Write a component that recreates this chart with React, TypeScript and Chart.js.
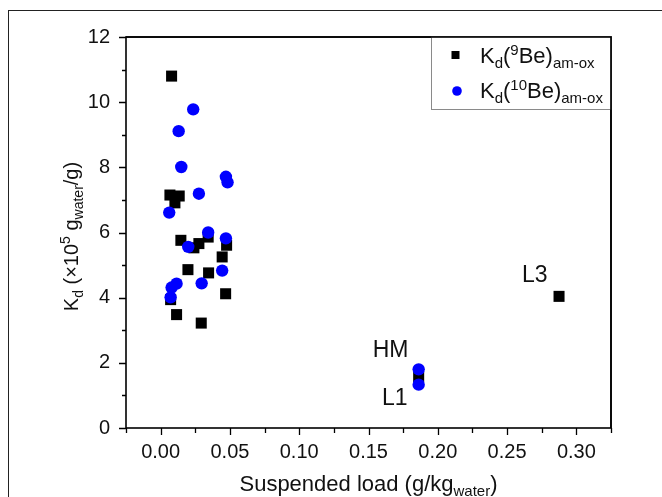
import React, { useEffect, useRef } from 'react';
import { Chart, registerables } from 'chart.js';

Chart.register(...registerables);

const FONT = '"Liberation Sans", Arial, sans-serif';

// Kd(9Be)am-ox
const be9X = [0.0079, 0.0067, 0.0134, 0.0103, 0.0146, 0.0343, 0.0476, 0.0276, 0.024, 0.0444, 0.0197, 0.0346, 0.0469, 0.0072, 0.0115, 0.0293, 0.1862, 0.2875];
const be9Y = [10.8, 7.15, 7.12, 6.91, 5.76, 5.86, 5.61, 5.66, 5.53, 5.25, 4.86, 4.76, 4.12, 3.94, 3.48, 3.22, 1.57, 4.04];

// Kd(10Be)am-ox
const be10X = [0.0235, 0.013, 0.0149, 0.0471, 0.0483, 0.0276, 0.0062, 0.0343, 0.0471, 0.0199, 0.0444, 0.0296, 0.0115, 0.0079, 0.0072, 0.1862, 0.1862];
const be10Y = [9.78, 9.11, 8.01, 7.71, 7.54, 7.19, 6.61, 6.0, 5.82, 5.56, 4.83, 4.44, 4.43, 4.31, 4.01, 1.8, 1.33];

// point annotations
const noteTexts = ['HM', 'L1', 'L3'];
const noteX = [0.1659, 0.169, 0.27];
const noteY = [2.41, 0.95, 4.72];

// axes
const xMin = -0.025;
const xMax = 0.325;
const xStep = 0.025;
const yMin = 0;
const yMax = 12;
const yStep = 1;

type Seg = { t: string; m?: 'sub' | 'sup' };

const xTitle: Seg[] = [{ t: 'Suspended load (g/kg' }, { t: 'water', m: 'sub' }, { t: ')' }];
const yTitle: Seg[] = [
  { t: 'K' }, { t: 'd', m: 'sub' }, { t: ' (×10' }, { t: '5', m: 'sup' }, { t: ' g' },
  { t: 'water', m: 'sub' }, { t: '/g)' },
];
const legend9: Seg[] = [{ t: 'K' }, { t: 'd', m: 'sub' }, { t: '(' }, { t: '9', m: 'sup' }, { t: 'Be)' }, { t: 'am-ox', m: 'sub' }];
const legend10: Seg[] = [{ t: 'K' }, { t: 'd', m: 'sub' }, { t: '(' }, { t: '10', m: 'sup' }, { t: 'Be)' }, { t: 'am-ox', m: 'sub' }];

function drawRich(ctx: CanvasRenderingContext2D, segs: Seg[], x: number, y: number, size: number, align: 'left' | 'center') {
  const small = Math.round(size * 0.68);
  let w = 0;
  for (const s of segs) {
    ctx.font = `${s.m ? small : size}px ${FONT}`;
    w += ctx.measureText(s.t).width;
  }
  let cx = align === 'center' ? x - w / 2 : x;
  ctx.textBaseline = 'alphabetic';
  ctx.textAlign = 'left';
  for (const s of segs) {
    ctx.font = `${s.m ? small : size}px ${FONT}`;
    const dy = s.m === 'sub' ? size * 0.24 : s.m === 'sup' ? -size * 0.38 : 0;
    ctx.fillText(s.t, cx, y + dy);
    cx += ctx.measureText(s.t).width;
  }
}

const isMajorX = (v: number) => Math.round(v * 1000) % 50 === 0 && v > -0.0001;

const decorPlugin = {
  id: 'decor',
  afterDraw(chart: any) {
    const { ctx, chartArea } = chart;
    const xs = chart.scales.x;
    const ys = chart.scales.y;
    ctx.save();
    // plot frame
    ctx.strokeStyle = '#000';
    ctx.lineWidth = 1.6;
    ctx.strokeRect(chartArea.left, chartArea.top, chartArea.right - chartArea.left, chartArea.bottom - chartArea.top);
    // tick marks
    ctx.lineWidth = 1.3;
    ctx.beginPath();
    for (const t of xs.ticks) {
      const px = Math.round(xs.getPixelForValue(t.value)) + 0.5;
      const len = isMajorX(t.value) ? 7 : 5;
      ctx.moveTo(px, chartArea.bottom);
      ctx.lineTo(px, chartArea.bottom + len);
    }
    for (const t of ys.ticks) {
      const py = Math.round(ys.getPixelForValue(t.value)) + 0.5;
      const len = Math.round(t.value) % 2 === 0 ? 7 : 4;
      ctx.moveTo(chartArea.left, py);
      ctx.lineTo(chartArea.left - len, py);
    }
    ctx.stroke();

    // legend box
    ctx.fillStyle = '#fff';
    ctx.strokeStyle = '#8a8a8a';
    ctx.lineWidth = 1;
    const boxL = 431.5, boxT = chartArea.top, boxB = 109.5;
    ctx.fillRect(boxL, boxT, chartArea.right - boxL, boxB - boxT);
    ctx.strokeRect(boxL, boxT, chartArea.right - boxL, boxB - boxT);
    ctx.strokeStyle = '#000';
    ctx.lineWidth = 1.6;
    ctx.beginPath();
    ctx.moveTo(chartArea.left, chartArea.top);
    ctx.lineTo(chartArea.right, chartArea.top);
    ctx.lineTo(chartArea.right, chartArea.bottom);
    ctx.stroke();
    ctx.fillStyle = '#000';
    ctx.fillRect(451.5, 51, 8, 8);
    ctx.fillStyle = '#0000ff';
    ctx.beginPath();
    ctx.arc(457, 91, 4.8, 0, Math.PI * 2);
    ctx.fill();
    ctx.fillStyle = '#111';
    drawRich(ctx, legend9, 480, 63, 22, 'left');
    drawRich(ctx, legend10, 480, 98, 22, 'left');

    // annotations
    ctx.font = `23px ${FONT}`;
    ctx.textAlign = 'center';
    ctx.textBaseline = 'alphabetic';
    for (let i = 0; i < noteTexts.length; i++) {
      const px = xs.getPixelForValue(noteX[i]);
      const py = ys.getPixelForValue(noteY[i]);
      ctx.fillText(noteTexts[i], px, py + 8);
    }

    // axis titles
    const midX = (chartArea.left + chartArea.right) / 2;
    drawRich(ctx, xTitle, midX, 491, 22, 'center');
    const midY = (chartArea.top + chartArea.bottom) / 2;
    ctx.translate(78, midY + 4);
    ctx.rotate(-Math.PI / 2);
    drawRich(ctx, yTitle, 0, 0, 20, 'center');
    ctx.restore();
  },
};

export default function App() {
  const ref = useRef<HTMLCanvasElement | null>(null);
  useEffect(() => {
    document.body.style.margin = '0';
    const canvas = ref.current;
    if (!canvas) return;
    const chart = new Chart(canvas, {
      type: 'scatter',
      data: {
        datasets: [
          {
            label: 'Kd(9Be)am-ox',
            data: be9X.map((x, i) => ({ x, y: be9Y[i] })),
            pointStyle: 'rect',
            pointRadius: 7.8,
            pointHoverRadius: 7.8,
            backgroundColor: '#000',
            borderColor: '#000',
            borderWidth: 0,
            order: 1,
          },
          {
            label: 'Kd(10Be)am-ox',
            data: be10X.map((x, i) => ({ x, y: be10Y[i] })),
            pointStyle: 'circle',
            pointRadius: 6.2,
            pointHoverRadius: 6.2,
            backgroundColor: '#0000ff',
            borderColor: '#0000ff',
            borderWidth: 0,
            order: 0,
          },
        ],
      },
      options: {
        animation: false,
        responsive: false,
        devicePixelRatio: 1,
        layout: { padding: { top: 37, right: 51, left: 0, bottom: 0 } },
        plugins: { legend: { display: false }, tooltip: { enabled: false } },
        scales: {
          x: {
            type: 'linear',
            min: xMin,
            max: xMax,
            grid: { display: false },
            border: { display: false },
            ticks: {
              stepSize: xStep,
              autoSkip: false,
              maxRotation: 0,
              padding: 4,
              color: '#111',
              font: { size: 20, family: FONT },
              callback: (v: any) => (isMajorX(Number(v)) ? Number(v).toFixed(2) : ''),
            },
            afterFit: (s: any) => { s.height = 69; },
          },
          y: {
            type: 'linear',
            min: yMin,
            max: yMax,
            grid: { display: false },
            border: { display: false },
            ticks: {
              stepSize: yStep,
              autoSkip: false,
              padding: 8,
              color: '#111',
              font: { size: 20, family: FONT },
              callback: (v: any) => (Math.round(Number(v)) % 2 === 0 ? String(v) : ''),
            },
            afterFit: (s: any) => { s.width = 126; },
          },
        },
      },
      plugins: [decorPlugin],
    });
    return () => chart.destroy();
  }, []);
  return (
    <div style={{ position: 'relative', width: 662, height: 497, overflow: 'hidden', background: '#fff' }}>
      <div style={{ position: 'absolute', left: 8, top: 10, width: 900, height: 900, border: '1px solid #222', boxSizing: 'border-box' }} />
      <canvas ref={ref} width={662} height={497} style={{ position: 'absolute', left: 0, top: 0, width: 662, height: 497 }} />
    </div>
  );
}
